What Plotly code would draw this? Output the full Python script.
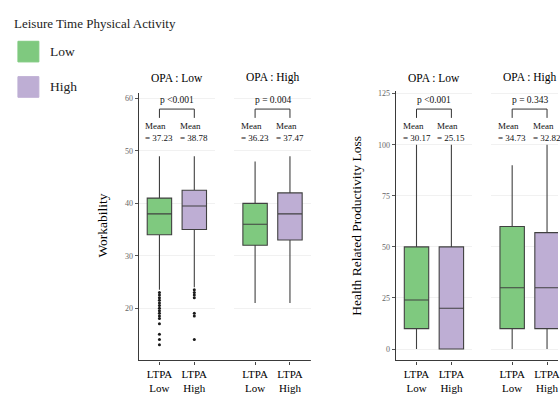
import plotly.graph_objects as go

W, H = 560, 394
FONT = "Liberation Serif"

# Factor levels and styling
ltpa_levels = ["Low", "High"]
ltpa_colors = ["#7fc97f", "#beaed4"]
opa_levels = ["Low", "High"]
tick_labels = ["LTPA<br>Low", "LTPA<br>High"]

# Workability: five-number summaries, indexed [OPA][LTPA]
work_q1 = [[34, 35], [32, 33]]
work_median = [[38, 39.5], [36, 38]]
work_q3 = [[41, 42.5], [40, 42]]
work_lower = [[23.5, 24], [21, 21]]
work_upper = [[49, 49], [48, 49]]
work_outliers = [
    [[23, 22.5, 22, 21.5, 21, 20.5, 20, 19.5, 19, 18.5, 18, 17, 15, 14, 13],
     [23.5, 23, 22.5, 22, 19, 18.5, 14]],
    [[], []],
]
work_means = [[37.23, 38.78], [36.23, 37.47]]
work_p = ["p <0.001", "p = 0.004"]

# Health related productivity loss: five-number summaries, indexed [OPA][LTPA]
hrpl_q1 = [[10, 0], [10, 10]]
hrpl_median = [[24, 20], [30, 30]]
hrpl_q3 = [[50, 50], [60, 57]]
hrpl_lower = [[0, 0], [0, 0]]
hrpl_upper = [[100, 100], [90, 100]]
hrpl_outliers = [[[], []], [[], []]]
hrpl_means = [[30.17, 25.15], [34.73, 32.82]]
hrpl_p = ["p <0.001", "p = 0.343"]

work_ticks = [20, 30, 40, 50, 60]
hrpl_ticks = [0, 25, 50, 75, 100, 125]


def px_x(p):
    return p / W


def px_y(p):
    return 1 - p / H


fig = go.Figure()

# Panel geometry (pixels): facet x-extents and vertical extent of each panel
panels = [
    dict(name="Workability", facets=[(139, 216), (235, 312)], top=93, bottom=365,
         yrange=[10.0, 61.0], ticks=work_ticks, q1=work_q1, med=work_median,
         q3=work_q3, lo=work_lower, hi=work_upper, out=work_outliers,
         means=work_means, p=work_p, title_x=103),
    dict(name="Health Related Productivity Loss", facets=[(397, 474), (493, 560)],
         top=91, bottom=365, yrange=[-5.6, 126.1], ticks=hrpl_ticks, q1=hrpl_q1,
         med=hrpl_median, q3=hrpl_q3, lo=hrpl_lower, hi=hrpl_upper, out=hrpl_outliers,
         means=hrpl_means, p=hrpl_p, title_x=358),
]

PX_PER_UNIT = 35.0  # category spacing in pixels
annotations = []
shapes = []
axis_idx = 0
for panel in panels:
    first_axis = axis_idx + 1
    for f, (x0, x1) in enumerate(panel["facets"]):
        axis_idx += 1
        sfx = "" if axis_idx == 1 else str(axis_idx)
        xname, yname = "x" + sfx, "y" + sfx
        span = (x1 - x0) / PX_PER_UNIT
        fig.layout["xaxis" + sfx] = dict(
            domain=[px_x(x0), px_x(x1)], anchor=yname, type="category",
            categoryorder="array", categoryarray=tick_labels,
            range=[-0.6, -0.6 + span], showline=False, showgrid=False,
            zeroline=False, ticks="outside", ticklen=3, tickcolor="#444444",
            tickfont=dict(family=FONT, size=11, color="#000000"), fixedrange=True,
        )
        yaxis = dict(
            domain=[px_y(panel["bottom"]), px_y(panel["top"])], anchor=xname,
            range=panel["yrange"], tickvals=panel["ticks"], showgrid=True,
            gridcolor="#f1f1f1", gridwidth=1, zeroline=False, fixedrange=True,
        )
        if f == 0:
            yaxis.update(showline=True, linecolor="#3a3a3a", linewidth=1,
                         ticks="outside", ticklen=3, tickcolor="#555555",
                         tickfont=dict(family=FONT, size=8, color="#666666"))
        else:
            first_sfx = "" if first_axis == 1 else str(first_axis)
            yaxis.update(showline=False, ticks="", showticklabels=False,
                         matches="y" + first_sfx)
        fig.layout["yaxis" + sfx] = yaxis

        for j in range(len(ltpa_levels)):
            fig.add_trace(go.Box(
                x=[tick_labels[j]], q1=[panel["q1"][f][j]], median=[panel["med"][f][j]],
                q3=[panel["q3"][f][j]], lowerfence=[panel["lo"][f][j]],
                upperfence=[panel["hi"][f][j]], orientation="v", width=0.7,
                whiskerwidth=0, boxpoints=False, fillcolor=ltpa_colors[j],
                line=dict(color="#404040", width=1.1), xaxis=xname, yaxis=yname,
                showlegend=False, hoverinfo="skip",
            ))
            pts = panel["out"][f][j]
            if pts:
                fig.add_trace(go.Scatter(
                    x=[tick_labels[j]] * len(pts), y=pts, mode="markers",
                    marker=dict(size=3, color="#1a1a1a"), xaxis=xname, yaxis=yname,
                    showlegend=False, hoverinfo="skip",
                ))
            # mean label above each box
            annotations.append(dict(
                xref=xname, yref="paper", x=j, y=px_y(132), xanchor="center",
                yanchor="middle", align="left", showarrow=False,
                text="Mean<br>= %.2f" % panel["means"][f][j],
                font=dict(family=FONT, size=9, color="#111111"),
            ))

        # facet strip title
        annotations.append(dict(
            xref=xname, yref="paper", x=0.5, y=px_y(77), xanchor="center",
            yanchor="middle", showarrow=False, text="OPA : %s" % opa_levels[f],
            font=dict(family=FONT, size=11.5, color="#000000"),
        ))
        # p-value with comparison bracket
        annotations.append(dict(
            xref=xname, yref="paper", x=0.5, y=px_y(100), xanchor="center",
            yanchor="middle", showarrow=False, text=panel["p"][f],
            font=dict(family=FONT, size=9.5, color="#111111"),
        ))
        bl = dict(color="#333333", width=1)
        shapes.append(dict(type="line", xref=xname, yref="paper", x0=0, x1=1,
                           y0=px_y(109), y1=px_y(109), line=bl))
        for xb in (0, 1):
            shapes.append(dict(type="line", xref=xname, yref="paper", x0=xb, x1=xb,
                               y0=px_y(109), y1=px_y(118), line=bl))

    # continuous bottom axis line across both facets
    shapes.append(dict(type="line", xref="paper", yref="paper",
                       x0=px_x(panel["facets"][0][0]), x1=px_x(panel["facets"][-1][1]),
                       y0=px_y(panel["bottom"]), y1=px_y(panel["bottom"]),
                       line=dict(color="#3a3a3a", width=1)))
    # y-axis title
    annotations.append(dict(
        xref="paper", yref="paper", x=px_x(panel["title_x"]), y=px_y(228),
        xanchor="center", yanchor="middle", textangle=-90, showarrow=False,
        text=panel["name"], font=dict(family=FONT, size=13.5, color="#000000"),
    ))

# Legend: Leisure Time Physical Activity
annotations.append(dict(
    xref="paper", yref="paper", x=px_x(12), y=px_y(22), xanchor="left",
    yanchor="middle", showarrow=False, text="Leisure Time Physical Activity",
    font=dict(family=FONT, size=13, color="#222222"),
))
for j, (lvl, col) in enumerate(zip(ltpa_levels, ltpa_colors)):
    top = 40 + j * 36
    shapes.append(dict(type="rect", xref="paper", yref="paper",
                       x0=px_x(18), x1=px_x(39), y0=px_y(top + 21), y1=px_y(top),
                       fillcolor=col, line=dict(color=col, width=1)))
    annotations.append(dict(
        xref="paper", yref="paper", x=px_x(48), y=px_y(top + 10), xanchor="left",
        yanchor="middle", showarrow=False, text=lvl,
        font=dict(family=FONT, size=13.5, color="#222222"),
    ))

fig.update_layout(
    width=W, height=H, margin=dict(l=0, r=0, t=0, b=0),
    paper_bgcolor="white", plot_bgcolor="white", boxmode="overlay",
    font=dict(family=FONT, color="#111111"),
    annotations=annotations, shapes=shapes, showlegend=False,
)

fig.write_html("out.html")
